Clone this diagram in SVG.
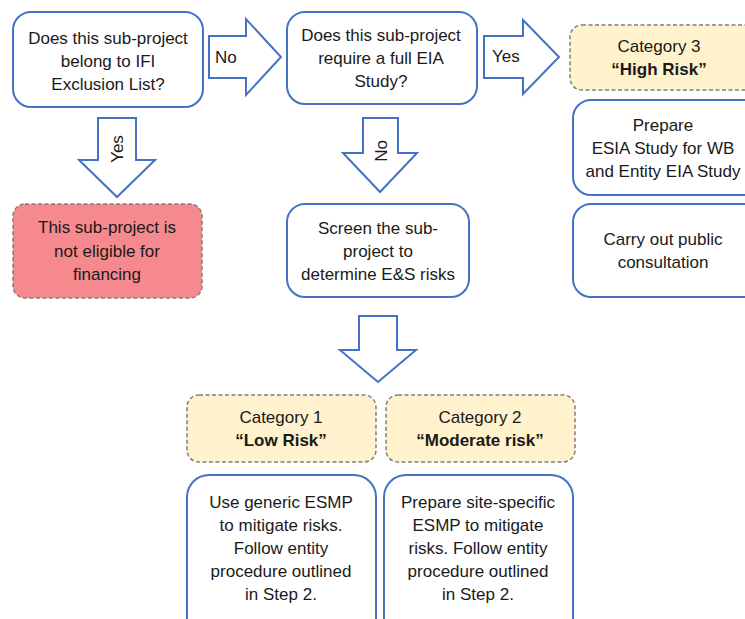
<svg xmlns="http://www.w3.org/2000/svg" width="745" height="619" viewBox="0 0 745 619">
<style>
.blue{fill:#ffffff;stroke:#4472C4;stroke-width:2}
.cat{fill:#FFF2CC;stroke:#7F7F7F;stroke-width:1.5;stroke-dasharray:4 2.5}
.red{fill:#F5898E;stroke:#7F7F7F;stroke-width:1.5;stroke-dasharray:4 2.5}
.arr{fill:#ffffff;stroke:#4472C4;stroke-width:2;stroke-linejoin:miter}
text{font-family:"Liberation Sans",Arial,sans-serif;font-size:17px;fill:#1a1a1a;text-anchor:middle}
.b{font-weight:bold}
.lbl{text-anchor:start}
</style>
<rect width="745" height="619" fill="#ffffff"/>
<g id="connectors">
<polygon class="arr" points="209,36 246,36 246,19 281,57 246,95 246,78 209,78"/>
<text class="lbl" x="215" y="63">No</text>
<polygon class="arr" points="484,36 523,36 523,20 559,57 523,94 523,78 484,78"/>
<text class="lbl" x="492" y="62">Yes</text>
<polygon class="arr" points="98,118 136,118 136,160 155,160 117,197 79,160 98,160"/>
<text transform="translate(123,149) rotate(-90)">Yes</text>
<polygon class="arr" points="363,118 398,118 398,153 417,153 380,192 343,153 363,153"/>
<text transform="translate(387,151) rotate(-90)">No</text>
<polygon class="arr" points="359,316 397,316 397,350 416,350 378,382 340,350 359,350"/>
</g>
<g id="q1">
<rect class="blue" x="13" y="12" width="190" height="95" rx="18"/>
<text x="108" y="44">Does this sub-project</text>
<text x="108" y="67">belong to IFI</text>
<text x="108" y="90">Exclusion List?</text>
</g>
<g id="q2">
<rect class="blue" x="287" y="12" width="190" height="92" rx="18"/>
<text x="381" y="41">Does this sub-project</text>
<text x="381" y="64">require a full EIA</text>
<text x="381" y="87">Study?</text>
</g>
<g id="cat3">
<rect class="cat" x="570" y="25" width="190" height="65" rx="12"/>
<text x="659" y="52">Category 3</text>
<text class="b" x="659" y="75">“High Risk”</text>
</g>
<g id="prepare-esia">
<rect class="blue" x="573" y="100" width="190" height="95" rx="18"/>
<text x="663" y="131">Prepare</text>
<text x="663" y="154">ESIA Study for WB</text>
<text x="663" y="177">and Entity EIA Study</text>
</g>
<g id="consultation">
<rect class="blue" x="573" y="204" width="190" height="93" rx="18"/>
<text x="663" y="245">Carry out public</text>
<text x="663" y="268">consultation</text>
</g>
<g id="not-eligible">
<rect class="red" x="13" y="204" width="189" height="94" rx="12"/>
<text x="107" y="233">This sub-project is</text>
<text x="107" y="257">not eligible for</text>
<text x="107" y="280">financing</text>
</g>
<g id="screen">
<rect class="blue" x="287" y="204" width="182" height="93" rx="18"/>
<text x="378" y="234">Screen the sub-</text>
<text x="378" y="257">project to</text>
<text x="378" y="280">determine E&amp;S risks</text>
</g>
<g id="cat1">
<rect class="cat" x="187" y="395" width="189" height="67" rx="12"/>
<text x="281" y="423">Category 1</text>
<text class="b" x="281" y="446">“Low Risk”</text>
</g>
<g id="cat2">
<rect class="cat" x="386" y="395" width="189" height="67" rx="12"/>
<text x="480" y="423">Category 2</text>
<text class="b" x="480" y="446">“Moderate risk”</text>
</g>
<g id="low-esmp">
<rect class="blue" x="187" y="475" width="189" height="170" rx="22"/>
<text x="281" y="508">Use generic ESMP</text>
<text x="281" y="531">to mitigate risks.</text>
<text x="281" y="554">Follow entity</text>
<text x="281" y="577">procedure outlined</text>
<text x="281" y="600">in Step 2.</text>
</g>
<g id="moderate-esmp">
<rect class="blue" x="384" y="475" width="189" height="170" rx="22"/>
<text x="478" y="508">Prepare site-specific</text>
<text x="478" y="531">ESMP to mitigate</text>
<text x="478" y="554">risks. Follow entity</text>
<text x="478" y="577">procedure outlined</text>
<text x="478" y="600">in Step 2.</text>
</g>
</svg>
